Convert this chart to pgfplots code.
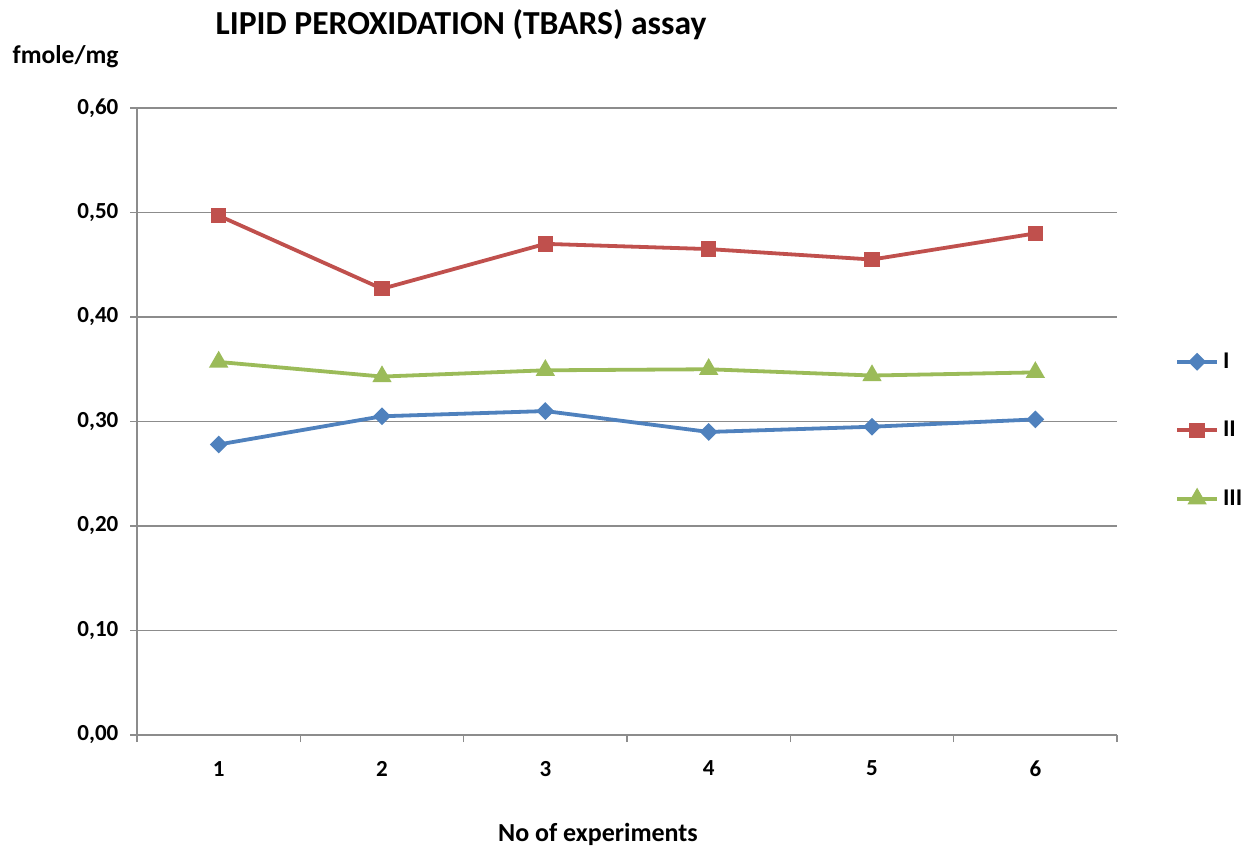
\documentclass[border=0pt]{standalone}
\usepackage{fontspec}
\setmainfont{Carlito}
\usepackage{pgfplots}
\pgfplotsset{compat=1.18}
\definecolor{sI}{HTML}{4F81BD}
\definecolor{sII}{HTML}{C0504D}
\definecolor{sIII}{HTML}{9BBB59}
\definecolor{gridc}{HTML}{8C8C8C}

\begin{document}
\begin{tikzpicture}
% canvas: 1 px of the reference = 0.5pt
\path[use as bounding box] (0,0) rectangle (622pt,424pt);
\begin{axis}[
  at={(68.5pt,56.5pt)}, anchor=south west,
  scale only axis,
  width=490pt, height=313.5pt,
  xmin=0.5, xmax=6.5,
  ymin=0, ymax=0.6,
  xtick={1,2,3,4,5,6},
  minor xtick={0.5,1.5,2.5,3.5,4.5,5.5,6.5},
  ytick={0,0.1,0.2,0.3,0.4,0.5,0.6},
  axis x line*=bottom,
  axis y line*=left,
  axis line style={gridc, line width=0.6pt, -},
  tick align=outside,
  major tick length=3.5pt,
  minor tick length=3.5pt,
  tick style={gridc, line width=0.6pt},
  major x tick style={draw=none},
  ymajorgrids=true,
  grid style={gridc, line width=0.6pt},
  /pgf/number format/assume math mode=true,
  yticklabel style={xshift=-2.3pt, /pgf/number format/.cd, fixed, fixed zerofill, precision=2, use comma},
  ticklabel style={font=\bfseries\fontsize{11.5}{13}\selectfont},
  xticklabel style={yshift=-6pt},
  legend style={at={(1.059,0.486)}, anchor=west, draw=none, fill=none,
    inner sep=0pt, row sep=21pt,
    font=\bfseries\fontsize{12}{14}\selectfont},
  legend cell align=left,
  legend image code/.code={\draw[mark repeat=2,mark phase=2,#1] plot coordinates {(0pt,0pt) (10pt,0pt) (20pt,0pt)};},
  clip=false,
]
\addplot[sI, line width=1.9pt, mark=square*, mark size=2.2pt, mark options={rotate=45, solid}] coordinates {
  (1,0.278) (2,0.305) (3,0.310) (4,0.290) (5,0.295) (6,0.302)
};
\addplot[sII, line width=1.9pt, mark=square*, mark size=2.9pt, mark options={solid}] coordinates {
  (1,0.497) (2,0.427) (3,0.470) (4,0.465) (5,0.455) (6,0.480)
};
\addplot[sIII, line width=1.9pt, mark=triangle*, mark size=3.7pt, mark options={solid}] coordinates {
  (1,0.357) (2,0.343) (3,0.349) (4,0.350) (5,0.344) (6,0.347)
};
\legend{I, II, III}
\end{axis}
\node[font=\bfseries\fontsize{16.8}{20}\selectfont] at (230.5pt,411.5pt) {LIPID PEROXIDATION (TBARS) assay};
\node[font=\bfseries\fontsize{12.8}{14}\selectfont] at (32.8pt,395.5pt) {fmole/mg};
\node[font=\bfseries\fontsize{13}{15}\selectfont] at (299pt,7pt) {No of experiments};
\end{tikzpicture}
\end{document}
